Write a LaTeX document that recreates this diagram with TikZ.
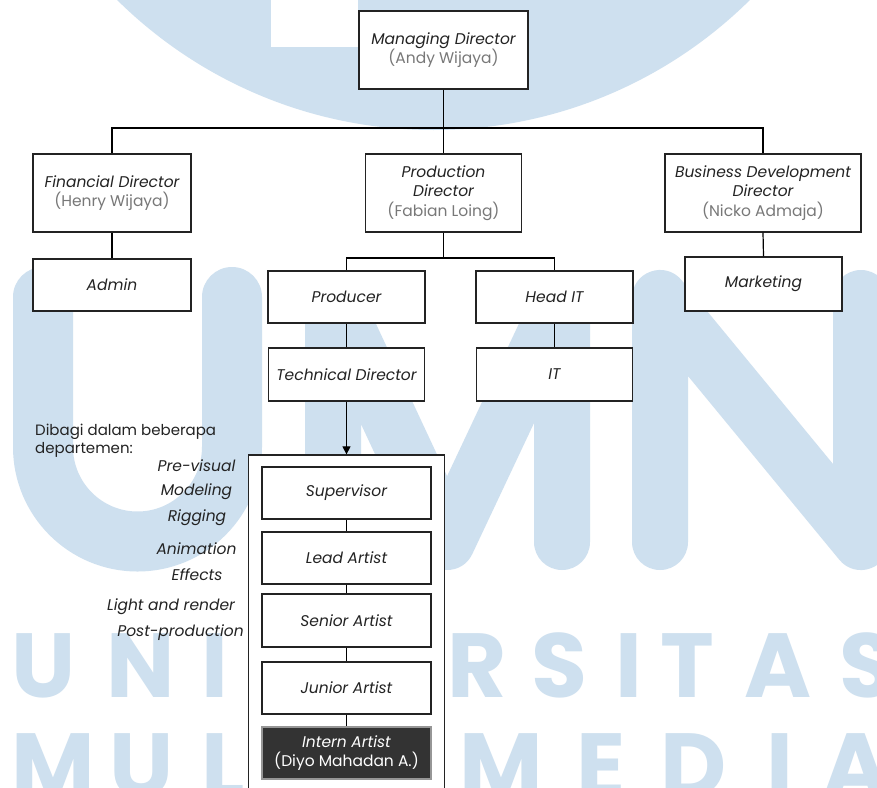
\documentclass[tikz,border=0pt]{standalone}
\usepackage{fontspec}
\setmainfont{Poppins}
\usetikzlibrary{arrows.meta}
\definecolor{wm}{RGB}{206,224,239}
\definecolor{ink}{RGB}{35,35,35}
\definecolor{namec}{RGB}{120,120,120}
\definecolor{darkbox}{RGB}{51,51,51}
\definecolor{darkedge}{RGB}{150,150,150}
\begin{document}
\begin{tikzpicture}[x=1pt,y=-1pt,
  box/.style={draw=ink, fill=white, line width=1.3pt, inner sep=0pt, align=center,
    font=\fontsize{15.5}{19.5}\selectfont\itshape, text=ink},
  conn/.style={draw=black, line width=1.2pt},
  lbl/.style={inner sep=0pt, font=\fontsize{15.5}{18}\selectfont\itshape, text=ink},
  wml/.style={inner sep=0pt, text=wm, font=\fontsize{91}{91}\selectfont\bfseries},
  wmstroke/.style={draw=wm, line cap=round, line join=round}
]
\useasboundingbox (0,0) rectangle (877,787);
\clip (0,0) rectangle (877,787);
\fill[white] (0,0) rectangle (877,787);

% ---------- watermark ----------
\fill[wm] (433.5,-320) circle[radius=450pt];
\fill[white] (271,-1) rectangle (358,47);
\draw[wmstroke, line width=60pt] (43,297) -- (43,447) arc[start angle=180, end angle=360, radius=94.5pt] -- (232,297);
\draw[wmstroke, line width=56pt] (333,542) -- (333,298) -- (447,542) -- (562,298) -- (562,542);
\draw[wmstroke, line width=56pt] (660,542) -- (660,298) -- (861,542) -- (861,298);
\node[wml, anchor=base west] (wa1) at (11,697) {U};
\node[wml, anchor=base west] (wa2) at (106,697) {N};
\node[wml, anchor=base west] (wa3) at (201,697) {I};
\node[wml, anchor=base west] (wa4) at (447,697) {R};
\node[wml, anchor=base west] (wa5) at (531,697) {S};
\node[wml, anchor=base west] (wa6) at (615,697) {I};
\node[wml, anchor=base west] (wa7) at (660,697) {T};
\node[wml, anchor=base west] (wa8) at (744,697) {A};
\node[wml, anchor=base west] (wa9) at (839,697) {S};
\node[wml, anchor=base west] (wb1) at (11,797) {M};
\node[wml, anchor=base west] (wb2) at (109,797) {U};
\node[wml, anchor=base west] (wb3) at (201,797) {L};
\node[wml, anchor=base west] (wb4) at (459,797) {M};
\node[wml, anchor=base west] (wb5) at (576,797) {E};
\node[wml, anchor=base west] (wb6) at (660,797) {D};
\node[wml, anchor=base west] (wb7) at (766,797) {I};
\node[wml, anchor=base west] (wb8) at (822,797) {A};

% ---------- boxes ----------
\node[box, minimum width=169pt, minimum height=78pt] (md) at (443.5,50)
  {Managing Director\\{\upshape\color{namec}(Andy Wijaya)}};
\node[box, minimum width=158pt, minimum height=78pt] (fd) at (112,193)
  {Financial Director\\{\upshape\color{namec}(Henry Wijaya)}};
\node[box, minimum width=156pt, minimum height=78pt] (pd) at (443.5,193)
  {Production\\Director\\{\upshape\color{namec}(Fabian Loing)}};
\node[box, minimum width=196pt, minimum height=78pt] (bd) at (763,193)
  {Business Development\\Director\\{\upshape\color{namec}(Nicko Admaja)}};
\node[box, minimum width=158pt, minimum height=52pt] (admin) at (112,285) {Admin};
\node[box, minimum width=157pt, minimum height=54pt] (mkt) at (763.5,284) {Marketing};
\node[box, minimum width=157pt, minimum height=52pt] (prod) at (346.5,297) {Producer};
\node[box, minimum width=157pt, minimum height=52pt] (head) at (554.5,297) {Head IT};
\node[box, minimum width=156pt, minimum height=53pt] (td) at (346.5,374.5) {Technical Director};
\node[box, minimum width=156pt, minimum height=53pt] (it) at (554.5,374.5) {IT};

\node[box, minimum width=196pt, minimum height=345pt] (cont) at (346.5,627.5) {};
\node[box, minimum width=169pt, minimum height=52pt] (sup) at (346.5,493) {Supervisor};
\node[box, minimum width=169pt, minimum height=52pt] (lead) at (346.5,558) {Lead Artist};
\node[box, minimum width=169pt, minimum height=53pt] (senior) at (346.5,620.5) {Senior Artist};
\node[box, minimum width=169pt, minimum height=52pt] (junior) at (346.5,688) {Junior Artist};
\node[box, draw=darkedge, fill=darkbox, text=white, minimum width=169pt, minimum height=52pt] (intern) at (346.5,753)
  {Intern Artist\\{\upshape (Diyo Mahadan A.)}};

% ---------- connectors ----------
\coordinate (bus1) at (443.5,128);
\coordinate (bus2) at (443.5,258);
\draw[conn] (md.south) -- (bus1);
\draw[conn] (fd.north) -- (fd.north |- bus1) -- (bd.north |- bus1) -- (bd.north);
\draw[conn] (bus1) -- (pd.north);
\draw[conn] (fd.south) -- (admin.north);
\draw[conn] (bd.south) -- (mkt.north);
\draw[conn] (pd.south) -- (bus2);
\draw[conn] (prod.north) -- (prod.north |- bus2) -- (head.north |- bus2) -- (head.north);
\draw[conn] (prod.south) -- (td.north);
\draw[conn] (head.south) -- (it.north);
\draw[conn, -{Triangle[length=8pt,width=8pt]}] (td.south) -- (cont.north);
\draw[conn] (sup.south) -- (lead.north);
\draw[conn] (lead.south) -- (senior.north);
\draw[conn] (senior.south) -- (junior.north);
\draw[conn] (junior.south) -- (intern.north);

% ---------- left labels ----------
\node[lbl, font=\fontsize{15}{18}\selectfont\upshape, anchor=west, align=left] (intro) at (35,441)
  {Dibagi dalam beberapa\\departemen:};
\node[lbl] (d1) at (196.5,466) {Pre-visual};
\node[lbl] (d2) at (196.5,492) {Modeling};
\node[lbl] (d3) at (197,518) {Rigging};
\node[lbl] (d4) at (196.5,549) {Animation};
\node[lbl] (d5) at (197,575) {Effects};
\node[lbl] (d6) at (171,607) {Light and render};
\node[lbl] (d7) at (180.5,633) {Post-production};
\end{tikzpicture}
\end{document}
